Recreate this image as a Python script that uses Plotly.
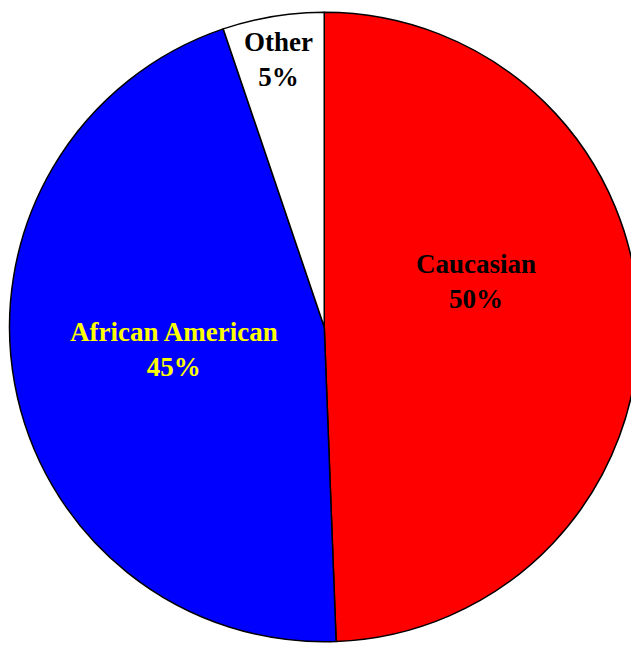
import plotly.graph_objects as go

categories = ["Caucasian", "African American", "Other"]
values = [49.4, 45.4, 5.2]
pct_labels = ["50%", "45%", "5%"]
colors = ["#FF0000", "#0000FF", "#FFFFFF"]
text_colors = ["#000000", "#FFFF00", "#000000"]
# label anchor positions (paper fraction)
label_x = [0.7417, 0.2631, 0.4279]
label_y = [0.5721, 0.4655, 0.9185]

fig = go.Figure(go.Pie(
    labels=categories,
    values=values,
    textinfo="none",
    marker=dict(colors=colors, line=dict(color="#000000", width=1.5)),
    sort=False,
    direction="clockwise",
    rotation=0,
    hoverinfo="skip",
    domain=dict(x=[0.0024, 1.0], y=[0.0055, 0.9945]),
))

for cat, pct, col, lx, ly in zip(categories, pct_labels, text_colors, label_x, label_y):
    fig.add_annotation(
        x=lx, y=ly, xref="paper", yref="paper",
        text=f"<b>{cat}<br>{pct}</b>",
        showarrow=False,
        xanchor="center", yanchor="middle",
        font=dict(family="Liberation Serif", size=27, color=col),
    )

fig.update_layout(
    width=631, height=638,
    margin=dict(l=0, r=0, t=0, b=0),
    paper_bgcolor="white",
    plot_bgcolor="white",
    showlegend=False,
)

fig.write_html("out.html")
